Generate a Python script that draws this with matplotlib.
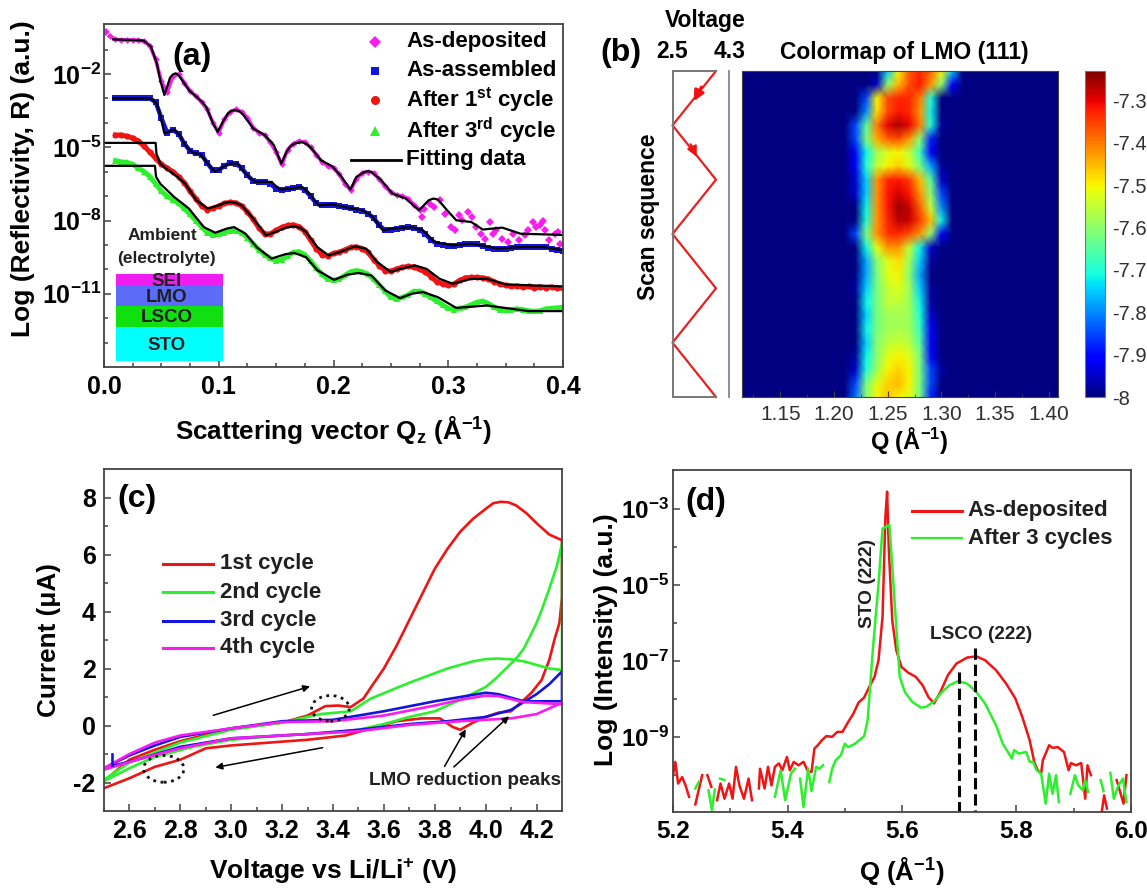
import numpy as np
import matplotlib
matplotlib.use('Agg')
import matplotlib.pyplot as plt
from matplotlib.lines import Line2D
from matplotlib.patches import Rectangle, Ellipse

plt.rcParams['font.family'] = ['Liberation Sans', 'DejaVu Sans']
plt.rcParams['font.weight'] = 'bold'
plt.rcParams['mathtext.fontset'] = 'custom'
plt.rcParams['mathtext.rm'] = 'Liberation Sans:bold'
plt.rcParams['mathtext.bf'] = 'Liberation Sans:bold'
plt.rcParams['mathtext.it'] = 'Liberation Sans:bold'
plt.rcParams['mathtext.default'] = 'bf'

W, H = 1147, 888
EDGE = '#444444'
RED, GREEN, BLUE, PINK = '#f01414', '#2cf02c', '#1414e0', '#f81cf0'

# panel (a): reflectivity, log10 R
r_ad = [-0.45, -0.58, -0.6, -0.6, -0.6, -0.62, -0.65, -0.85, -1.4, -2.3, -2.75, -2.1, -2.0, -2.35, -2.7, -2.9, -3.15,
        -3.45, -4.0, -4.4, -3.85, -3.55, -3.45, -3.55, -3.8, -4.2, -4.4, -4.5, -4.8, -5.2, -5.7, -5.1, -4.85, -4.75,
        -4.8, -5.0, -5.3, -5.6, -5.75, -5.85, -6.1, -6.5, -6.75, -6.3, -6.05, -6.0, -6.05, -6.3, -6.6, -6.85, -6.95,
        -7.0, -7.1, -7.35, -7.55]
q_ad_noisy = [.002, .277, .279, .284, .2877, .2926, .2975, .3024, .3057, .309, .3123, .3172, .3205, .3245, .3287, .332,
              .3363, .3386, .3419, .3468, .3517, .3567, .3616, .3665, .3698, .3738, .3764, .3803, .383, .3846, .3879,
              .3928, .396, .3978]
r_ad_noisy = [-0.26, -7.85, -7.51, -7.31, -7.44, -7.17, -7.72, -8.27, -8.4, -7.79, -7.99, -7.65, -7.85, -8.27, -8.54,
              -8.74, -8.06, -8.54, -8.4, -8.74, -8.88, -8.54, -8.81, -8.61, -8.4, -8.06, -8.27, -8.2, -8.0, -8.4,
              -8.81, -8.54, -8.48, -8.95]
r_aa = [-3.0, -3.0, -3.0, -3.0, -3.0, -3.0, -3.0, -3.15, -3.8, -4.4, -4.28, -4.45, -4.85, -5.15, -5.25, -5.3, -5.65,
        -5.95, -5.95, -5.75, -5.65, -5.67, -5.85, -6.15, -6.38, -6.42, -6.42, -6.5, -6.7, -6.75, -6.7, -6.65, -6.62,
        -6.75, -7.0, -7.3, -7.38, -7.35, -7.36, -7.42, -7.46, -7.5, -7.55, -7.6, -7.72, -7.9, -8.2, -8.4, -8.4, -8.33,
        -8.3, -8.28, -8.3, -8.38, -8.55, -8.8, -8.95, -9.0, -9.03, -9.03, -9.0, -8.98, -8.95, -8.97, -9.05, -9.12,
        -9.15, -9.18, -9.15, -9.12, -9.1, -9.1, -9.08, -9.08, -9.1, -9.1, -9.15, -9.2, -9.25]
r_c1 = [-4.5, -4.5, -4.55, -4.62, -4.75, -4.95, -5.2, -5.45, -5.7, -5.85, -6.0, -6.2, -6.45, -6.8, -7.1, -7.4, -7.55,
        -7.5, -7.4, -7.3, -7.25, -7.28, -7.4, -7.65, -7.95, -8.3, -8.55, -8.55, -8.4, -8.28, -8.2, -8.18, -8.25, -8.45,
        -8.8, -9.15, -9.4, -9.45, -9.35, -9.3, -9.2, -9.1, -9.08, -9.15, -9.3, -9.6, -9.85, -10.05, -10.08, -9.98,
        -9.92, -9.88, -9.9, -10.0, -10.1, -10.3, -10.5, -10.6, -10.65, -10.6, -10.45, -10.35, -10.33, -10.33, -10.35,
        -10.4, -10.5, -10.6, -10.65, -10.7, -10.68, -10.72, -10.7, -10.75, -10.72, -10.75, -10.72, -10.78, -10.75]
r_c3 = [-5.55, -5.6, -5.62, -5.7, -5.85, -6.0, -6.2, -6.5, -6.8, -7.0, -7.15, -7.3, -7.5, -7.75, -8.0, -8.25, -8.5,
        -8.6, -8.55, -8.5, -8.42, -8.42, -8.5, -8.7, -8.95, -9.2, -9.4, -9.55, -9.65, -9.6, -9.45, -9.3, -9.28, -9.4,
        -9.65, -9.95, -10.2, -10.4, -10.45, -10.4, -10.25, -10.1, -10.05, -10.1, -10.2, -10.4, -10.65, -10.9, -11.15,
        -11.22, -11.15, -11.05, -10.9, -10.9, -11.0, -11.15, -11.3, -11.45, -11.6, -11.65, -11.6, -11.55, -11.45,
        -11.35, -11.3, -11.4, -11.55, -11.65, -11.68, -11.65, -11.62, -11.65, -11.7, -11.72, -11.7, -11.62, -11.6,
        -11.58, -11.55]

fit_ad_q = [.008, .0345, .041, .046, .049, .0526, .056, .0575, .06, .0625, .065, .067, .074, .0805, .085, .089, .095,
            .099, .1035, .108, .1115, .115, .1185, .1216, .13, .14, .148, .1545, .159, .1625, .166, .1726, .177, .181,
            .189, .199, .207, .2147, .22, .227, .23, .233, .2416, .2515, .263, .2745, .283, .287, .291, .299, .307,
            .32, .33, .347, .363, .4]
fit_ad_r = [-.58, -.63, -.88, -1.56, -2.25, -2.86, -2.38, -2.15, -2.02, -1.97, -2.05, -2.18, -2.66, -2.93, -3.12, -3.34,
            -4.02, -4.37, -3.96, -3.61, -3.5, -3.48, -3.54, -3.68, -4.23, -4.5, -4.91, -5.67, -5.19, -4.95, -4.85,
            -4.78, -4.88, -5.05, -5.53, -5.78, -6.21, -6.73, -6.21, -6.01, -5.98, -6.01, -6.35, -6.9, -7.1, -7.58,
            -7.17, -7.1, -7.14, -7.58, -7.99, -8.06, -8.37, -8.29, -8.54, -8.59]
fit_aa_q = [.008, .041, .046, .049, .0526, .056, .061, .066, .0707, .0773, .0838, .0904, .097, .1035, .11, .1167,
            .1233, .1315, .14, .146, .153, .163, .1726, .179, .187, .199, .212, .225, .233, .243, .2515, .268, .278,
            .288, .304, .32, .3435, .363, .383, .4]
fit_aa_r = [-3.0, -3.0, -3.2, -3.68, -4.43, -4.37, -4.27, -4.5, -4.91, -5.23, -5.28, -5.67, -6.01, -5.8, -5.67, -5.67,
            -6.08, -6.42, -6.42, -6.42, -6.73, -6.69, -6.62, -6.9, -7.38, -7.34, -7.47, -7.58, -7.79, -8.4, -8.33,
            -8.27, -8.4, -8.88, -9.02, -8.95, -9.15, -9.09, -9.09, -9.22]
fit_c1_q = [.001, .045, .0457, .049, .054, .064, .0707, .0805, .0904, .1, .105, .11, .115, .12, .13, .1413, .153, .16,
            .166, .171, .176, .186, .1956, .2055, .2186, .2285, .238, .25, .258, .271, .281, .2926, .304, .32, .3337,
            .35, .4]
fit_c1_r = [-4.82, -4.82, -5.26, -5.67, -5.87, -6.21, -6.49, -7.17, -7.51, -7.38, -7.28, -7.24, -7.28, -7.38, -7.92,
            -8.61, -8.4, -8.28, -8.24, -8.3, -8.47, -9.09, -9.43, -9.29, -9.06, -9.15, -9.7, -10.11, -9.98, -9.84,
            -9.98, -10.39, -10.59, -10.39, -10.39, -10.62, -10.7]
fit_c3_q = [.001, .0444, .0454, .049, .061, .074, .087, .097, .107, .1134, .1233, .133, .146, .158, .166, .176, .186,
            .2005, .212, .222, .233, .245, .258, .268, .278, .291, .307, .3337, .37, .4]
fit_c3_r = [-5.76, -5.76, -6.21, -6.49, -7.03, -7.51, -8.27, -8.5, -8.33, -8.27, -8.54, -9.09, -9.56, -9.38, -9.33,
            -9.5, -10.04, -10.43, -10.22, -10.15, -10.25, -10.86, -11.18, -11.0, -10.93, -11.14, -11.58, -11.48,
            -11.71, -11.71]

# panel (b): log intensity, one row per scan step, columns at q_cols
q_cols = [1.21, 1.22, 1.23, 1.24, 1.25, 1.26, 1.27, 1.28, 1.29, 1.30, 1.31, 1.32]
lmo_map = [
    [-8, -8, -8, -8, -7.75, -7.5, -7.38, -7.33, -7.38, -7.5, -7.75, -8],
    [-8, -8, -8, -7.95, -7.6, -7.45, -7.36, -7.32, -7.42, -7.6, -7.9, -8],
    [-8, -8, -7.85, -7.5, -7.36, -7.33, -7.33, -7.4, -7.7, -8, -8, -8],
    [-8, -8, -7.8, -7.48, -7.36, -7.32, -7.33, -7.42, -7.72, -8, -8, -8],
    [-8, -7.85, -7.65, -7.4, -7.3, -7.26, -7.3, -7.4, -7.7, -7.98, -8, -8],
    [-8, -7.85, -7.62, -7.44, -7.38, -7.36, -7.42, -7.6, -7.88, -8, -8, -8],
    [-8, -7.92, -7.72, -7.58, -7.52, -7.5, -7.55, -7.68, -7.92, -8, -8, -8],
    [-8, -7.92, -7.7, -7.55, -7.5, -7.47, -7.52, -7.62, -7.78, -7.98, -8, -8],
    [-8, -7.95, -7.75, -7.42, -7.33, -7.32, -7.35, -7.45, -7.65, -7.95, -8, -8],
    [-8, -7.95, -7.75, -7.42, -7.32, -7.29, -7.32, -7.42, -7.6, -7.85, -8, -8],
    [-8, -8, -7.72, -7.42, -7.32, -7.25, -7.28, -7.38, -7.55, -7.8, -8, -8],
    [-8, -8, -7.7, -7.42, -7.33, -7.27, -7.28, -7.35, -7.45, -7.72, -8, -8],
    [-8, -7.85, -7.62, -7.42, -7.34, -7.33, -7.36, -7.42, -7.6, -7.9, -8, -8],
    [-8, -8, -7.72, -7.52, -7.42, -7.42, -7.55, -7.72, -7.95, -8, -8, -8],
    [-8, -8, -7.78, -7.6, -7.52, -7.48, -7.58, -7.75, -7.98, -8, -8, -8],
    [-8, -8, -7.78, -7.62, -7.52, -7.5, -7.6, -7.78, -8, -8, -8, -8],
    [-8, -7.98, -7.75, -7.62, -7.55, -7.52, -7.58, -7.75, -7.98, -8, -8, -8],
    [-8, -8, -7.72, -7.62, -7.55, -7.55, -7.58, -7.72, -7.98, -8, -8, -8],
    [-8, -8, -7.75, -7.62, -7.58, -7.58, -7.58, -7.7, -7.95, -8, -8, -8],
    [-8, -8, -7.72, -7.62, -7.58, -7.57, -7.58, -7.68, -7.92, -8, -8, -8],
    [-8, -8, -7.75, -7.6, -7.56, -7.54, -7.56, -7.65, -7.92, -8, -8, -8],
    [-8, -7.98, -7.72, -7.6, -7.52, -7.5, -7.52, -7.62, -7.9, -8, -8, -8],
    [-8, -7.95, -7.7, -7.58, -7.5, -7.47, -7.5, -7.62, -7.85, -7.98, -8, -8],
    [-8, -7.85, -7.62, -7.52, -7.47, -7.45, -7.5, -7.62, -7.85, -8, -8, -8],
    [-8, -7.82, -7.6, -7.5, -7.46, -7.5, -7.52, -7.62, -7.88, -8, -8, -8],
]
scan_v = [4.3, 2.5, 4.3, 2.5, 4.3, 2.5, 4.3]
scan_step = [0, 4, 8, 12, 16, 20, 24]

# panel (c): cyclic voltammetry
cv1_v = [2.5, 2.6, 2.7, 2.8, 3.0, 3.2, 3.3, 3.37, 3.42, 3.47, 3.52, 3.55, 3.6, 3.65, 3.7, 3.75, 3.8, 3.85, 3.9, 3.95,
         4.0, 4.03, 4.06, 4.09, 4.12, 4.16, 4.2, 4.25, 4.3, 4.3, 4.29, 4.27, 4.25, 4.22, 4.18, 4.15, 4.1, 4.05, 4.0,
         3.95, 3.9, 3.87, 3.82, 3.75, 3.65, 3.55, 3.45, 3.3, 3.0, 2.9, 2.8, 2.7, 2.6, 2.5]
cv1_i = [-1.95, -1.2, -.85, -.55, -.1, .1, .35, .68, .7, .65, .95, 1.35, 2.0, 2.8, 3.7, 4.6, 5.5, 6.2, 6.8, 7.25, 7.6,
         7.8, 7.85, 7.83, 7.72, 7.45, 7.1, 6.7, 6.5, 4.5, 3.6, 3.0, 2.3, 1.6, 1.15, .9, .5, .45, .3, .1, -.15, -.05,
         .25, .25, .15, -.1, -.35, -.5, -.7, -.8, -1.2, -1.45, -1.85, -2.2]
cv2_v = [2.5, 2.6, 2.7, 2.8, 3.0, 3.2, 3.35, 3.47, 3.55, 3.7, 3.85, 3.95, 4.0, 4.05, 4.1, 4.15, 4.25, 4.3, 4.3, 4.28,
         4.25, 4.22, 4.2, 4.17, 4.15, 4.12, 4.08, 4.04, 4.0, 3.9, 3.8, 3.7, 3.6, 3.5, 3.4, 3.2, 3.0, 2.85, 2.7, 2.6, 2.5]
cv2_i = [-1.9, -1.3, -.95, -.6, -.15, .1, .4, .5, .95, 1.5, 2.0, 2.25, 2.33, 2.35, 2.32, 2.25, 2.0, 1.95, 6.4, 5.6, 4.8,
         4.05, 3.6, 3.05, 2.7, 2.35, 2.0, 1.65, 1.35, .9, .5, .3, .05, -.15, -.25, -.35, -.5, -.75, -1.1, -1.5, -1.95]
cv3_v = [2.5, 2.6, 2.7, 2.8, 3.0, 3.2, 3.4, 3.6, 3.8, 3.9, 4.0, 4.05, 4.15, 4.3, 4.3, 4.25, 4.2, 4.1, 4.0, 3.85, 3.7,
         3.5, 3.3, 3.0, 2.8, 2.65, 2.5]
cv3_i = [-1.5, -1.05, -.7, -.4, -.1, .15, .2, .5, .85, 1.0, 1.15, 1.1, .85, .85, 1.9, 1.45, 1.1, .55, .3, .15, .05,
         -.15, -.3, -.45, -.75, -1.15, -1.5]
cv4_v = [2.5, 2.6, 2.7, 2.8, 3.0, 3.2, 3.4, 3.6, 3.8, 3.9, 4.0, 4.05, 4.15, 4.3, 4.3, 4.2, 4.1, 3.9, 3.7, 3.5, 3.3, 3.0,
         2.8, 2.65, 2.5]
cv4_i = [-1.5, -1.0, -.6, -.35, -.1, .12, .15, .35, .7, .9, 1.05, 1.03, .82, .75, .8, .4, .25, .15, .02, -.2, -.3,
         -.45, -.8, -1.15, -1.55]
cv_labels = ['1st cycle', '2nd cycle', '3rd cycle', '4th cycle']

# panel (d): XRD, nan marks the gaps in the log plot
nan = float('nan')
xrd1_q = [5.2, 5.204, 5.209, 5.216, 5.222, 5.228, nan, 5.239, 5.251, nan, 5.26, 5.267, nan, 5.277, 5.283, 5.29, 5.298,
          5.304, 5.31, 5.316, 5.324, 5.332, 5.338, nan, 5.35, 5.352, 5.36, 5.366, 5.372, 5.378, 5.385, 5.391, 5.399,
          5.404, 5.411, 5.419, 5.428, 5.436, 5.442, 5.447, 5.453, 5.46, 5.468, 5.478, 5.487, 5.496, 5.506, 5.515,
          5.524, 5.534, 5.543, 5.552, 5.559, 5.566, 5.571, 5.574, 5.577, 5.583, 5.59, 5.599, 5.611, 5.624, 5.636,
          5.646, 5.656, 5.667, 5.68, 5.695, 5.714, 5.73, 5.745, 5.764, 5.782, 5.798, 5.81, 5.823, 5.831, 5.837, 5.843,
          5.846, 5.857, 5.863, 5.872, 5.883, 5.891, 5.895, 5.904, 5.913, 5.92, 5.924, 5.93, nan, 5.949, 5.953, 5.958,
          nan, 5.975, 5.987, 5.992]
xrd1_i = [-10.01, -9.66, -10.23, -10.06, -10.28, -10.58, nan, -10.78, -10.01, nan, -10.01, -10.32, nan, -10.67, -10.23,
          -10.63, -10.23, -10.63, -9.79, -10.28, -10.63, -10.1, -10.67, nan, -10.36, -9.84, -10.36, -9.79, -10.28,
          -9.79, -9.7, -9.88, -9.53, -9.88, -9.66, -9.75, -9.66, -9.92, -9.92, -9.31, -9.22, -9.09, -8.98, -9.0, -8.87,
          -8.87, -8.61, -8.39, -8.1, -7.96, -7.68, -7.42, -6.98, -5.84, -3.2, -2.54, -4.08, -5.93, -6.72, -7.16, -7.31,
          -7.42, -7.64, -7.95, -8.12, -7.82, -7.38, -7.07, -6.91, -6.88, -6.98, -7.24, -7.6, -7.99, -8.47, -9.09, -9.66,
          -9.88, -9.97, -9.62, -9.22, -9.29, -9.27, -9.4, -9.88, -9.69, -9.75, -9.69, -10.63, -9.75, -10.01, nan,
          -10.98, -10.54, -10.89, nan, -10.14, -10.76, -10.01]
xrd3_q = [5.239, 5.245, nan, 5.262, 5.268, 5.273, nan, 5.282, 5.29, nan, 5.378, 5.388, 5.396, 5.406, 5.413, nan, 5.422,
          5.428, 5.436, 5.442, 5.45, 5.456, 5.462, nan, 5.473, 5.478, 5.484, 5.493, 5.5, 5.506, 5.518, 5.534, 5.54,
          5.549, 5.559, 5.566, 5.578, 5.583, 5.59, 5.596, 5.605, 5.618, 5.633, 5.642, 5.655, 5.67, 5.683, 5.698, 5.714,
          5.73, 5.745, 5.764, 5.776, 5.785, 5.792, 5.796, 5.804, 5.817, 5.823, 5.829, 5.835, 5.843, 5.851, 5.857, 5.863,
          5.869, 5.874, nan, 5.894, 5.902, 5.908, 5.916, 5.92, 5.925, nan, 5.947, 5.952, nan, 5.964, 5.97, 5.978, 5.986,
          5.992]
xrd3_i = [-10.36, -10.19, nan, -10.41, -10.93, -10.39, nan, -10.1, -10.14, nan, -10.58, -9.88, -10.67, -9.97, -9.84,
          nan, -10.1, -10.85, -9.84, -10.43, -9.79, -9.84, -9.75, nan, -10.19, -9.84, -9.62, -9.49, -9.18, -9.27, -9.18,
          -8.98, -8.56, -6.72, -4.96, -3.51, -3.42, -4.52, -6.1, -7.42, -7.82, -8.08, -8.23, -8.21, -8.08, -7.82, -7.64,
          -7.53, -7.6, -7.82, -8.12, -8.69, -9.18, -9.4, -9.57, -9.35, -9.44, -9.4, -9.66, -9.66, -9.88, -9.97, -10.76,
          -9.97, -10.5, -10.01, -10.72, nan, -10.5, -10.01, -10.28, -10.41, -10.14, -10.45, nan, -10.14, -10.43, nan,
          -9.95, -10.63, -10.28, -10.1, -10.72]


def box(x0, y0, x1, y1):
    # axes from pixel corners of the original picture
    return fig.add_axes([x0 / W, 1 - y1 / H, (x1 - x0) / W, (y1 - y0) / H])


def label(x, y, s, size=16, **kw):
    kw.setdefault('ha', 'center')
    kw.setdefault('va', 'center')
    fig.text(x / W, 1 - y / H, s, fontsize=size, **kw)


def fig_line(xs, ys, **kw):
    fig.add_artist(Line2D([x / W for x in xs], [1 - y / H for y in ys], transform=fig.transFigure, **kw))


def style(ax, size=18, pad=6):
    for s in ax.spines.values():
        s.set_color(EDGE)
        s.set_linewidth(1.3)
    ax.tick_params(which='both', direction='in', color=EDGE, width=1.1)
    ax.tick_params(which='major', length=5, labelsize=size, pad=pad)
    ax.tick_params(which='minor', length=3)


fig = plt.figure(figsize=(W / 100, H / 100), dpi=100)

# ---- (a)
ax = box(104, 24, 563, 367)
style(ax)
ax.tick_params(axis='y', which='major', pad=2)
q_grid = np.linspace(0.01, 0.4, len(r_aa))
ax.plot(np.linspace(0.005, 0.275, len(r_ad)), 10.0 ** np.array(r_ad), '-D', color=PINK, lw=2.6, ms=3.4, mew=0)
ax.plot(q_ad_noisy, 10.0 ** np.array(r_ad_noisy), 'D', color=PINK, ms=4.4, mew=0)
ax.plot(q_grid, 10.0 ** np.array(r_aa), '-s', color=BLUE, lw=3.2, ms=3.8, mew=0)
ax.plot(q_grid, 10.0 ** np.array(r_c1), '-o', color=RED, lw=3.6, ms=4.4, mew=0)
ax.plot(q_grid, 10.0 ** np.array(r_c3), '-^', color=GREEN, lw=3.6, ms=4.6, mew=0)
for q, r in [(fit_ad_q, fit_ad_r), (fit_aa_q, fit_aa_r), (fit_c1_q, fit_c1_r), (fit_c3_q, fit_c3_r)]:
    ax.plot(q, 10.0 ** np.array(r), color='black', lw=1.6)
ax.set_yscale('log')
ax.set_xlim(0, 0.4)
ax.set_ylim(10 ** -14.0, 10 ** 0.05)
ax.set_xticks([0, .1, .2, .3, .4])
ax.set_xticklabels(['0.0', '0.1', '0.2', '0.3', '0.4'])
ax.set_xticks(np.arange(0, .4, .025), minor=True)
ax.set_yticks([1e-2, 1e-5, 1e-8, 1e-11])
ax.set_yticklabels(['$10^{-2}$', '$10^{-5}$', '$10^{-8}$', '$10^{-11}$'])
ax.set_yticks([10.0 ** -k for k in range(1, 14)], minor=True)
ax.set_yticklabels([], minor=True)
label(23, 179, 'Log (Reflectivity, R) (a.u.)', 19, rotation=90)
label(334, 430, 'Scattering vector Q$_{z}$ (Å$^{-1}$)', 18.8)
label(192, 57, '(a)', 23)

# layer stack sketch
for y0, y1, c, name in [(274, 286, '#f01cf0', 'SEI'), (286, 306, '#5a6cf8', 'LMO'),
                        (306, 327, '#10e010', 'LSCO'), (327, 361, '#00ffff', 'STO')]:
    fig.add_artist(Rectangle((115.5 / W, 1 - y1 / H), 107 / W, (y1 - y0) / H, color=c, lw=0,
                             transform=fig.transFigure))
    label(167, (y0 + y1) / 2 + 1, name, 13.5, color='#202020')
label(162, 235, 'Ambient', 12.5, color='#202020')
label(166, 258, '(electrolyte)', 12.5, color='#202020')

# legend of (a)
for y, m, c, ms, s in [(42, 'D', PINK, 6, 'As-deposited'), (71, 's', BLUE, 5.5, 'As-assembled'),
                       (100, 'o', RED, 6.5, 'After 1$^{st}$ cycle'), (131, '^', GREEN, 7, 'After 3$^{rd}$ cycle')]:
    fig_line([375], [y], marker=m, color=c, ms=ms, mew=0, ls='none')
    label(406, y, s, 16, ha='left')
fig_line([351, 401], [160, 160], color='black', lw=2)
label(406, 160, 'Fitting data', 16, ha='left')

# ---- (b)
ax = box(672.5, 71, 716, 397)
ax.plot(scan_v, scan_step, color='#e82020', lw=1.6, clip_on=False)
ax.annotate('', xy=(3.33, 2.4), xytext=(3.75, 1.0),
            arrowprops=dict(arrowstyle='-|>', color='#f01010', lw=2.2, mutation_scale=15))
ax.annotate('', xy=(3.55, 6.5), xytext=(3.2, 5.2),
            arrowprops=dict(arrowstyle='-|>', color='#f01010', lw=1.5, mutation_scale=15))
ax.set_xlim(2.5, 4.3)
ax.set_ylim(24, 0)
ax.set_xticks([])
ax.set_yticks([])
ax.spines['right'].set_visible(False)
for s in ax.spines.values():
    s.set_color('#777777')
    s.set_linewidth(1.4)
fig_line([729, 729], [71, 397], color='#7878a0', lw=1.2)

ax = box(741.5, 71, 1057.5, 397)
ax.set_facecolor(plt.get_cmap('jet')(0.0))
q_full = [1.20] + q_cols + [1.33]
grid = np.array([[-8] + row + [-8] for row in lmo_map], dtype=float)
qq, ss = np.meshgrid(q_full, np.arange(len(lmo_map)))
mesh = ax.pcolormesh(qq, ss, grid, cmap='jet', vmin=-8, vmax=-7.23, shading='gouraud')
ax.set_xlim(1.114, 1.408)
ax.set_ylim(24, 0)
ax.set_yticks([])
ax.set_xticks([1.15, 1.20, 1.25, 1.30, 1.35, 1.40])
ax.set_xticklabels(['1.15', '1.20', '1.25', '1.30', '1.35', '1.40'], fontweight='normal', color='#303030')
ax.set_xticks(np.arange(1.125, 1.41, .05), minor=True)
ax.tick_params(axis='x', which='both', direction='in', color=EDGE, labelsize=15, pad=6, length=4)
ax.tick_params(axis='x', which='minor', length=2)
for s in ax.spines.values():
    s.set_color(EDGE)

cax = box(1085, 71, 1105, 397)
cbar = fig.colorbar(mesh, cax=cax)
cbar.set_ticks([-8, -7.9, -7.8, -7.7, -7.6, -7.5, -7.4, -7.3])
cbar.set_ticklabels(['-8', '-7.9', '-7.8', '-7.7', '-7.6', '-7.5', '-7.4', '-7.3'], fontweight='normal', color='#303030')
cbar.ax.tick_params(length=0, labelsize=14.5, pad=5)
cbar.outline.set_edgecolor('#777777')

label(621, 53, '(b)', 23)
label(705, 20, 'Voltage', 16.5)
label(672, 52, '2.5', 16.5)
label(729.5, 52, '4.3', 16.5)
label(904, 52, 'Colormap of LMO (111)', 16.5)
label(649, 217, 'Scan sequence', 16.5, rotation=90)
label(909, 440, 'Q (Å$^{-1}$)', 17)

# ---- (c)
ax = box(104, 469, 562, 811)
style(ax)
for v, i, c in [(cv1_v, cv1_i, RED), (cv2_v, cv2_i, GREEN), (cv3_v, cv3_i, BLUE), (cv4_v, cv4_i, PINK)]:
    ax.plot(v, i, color=c, lw=1.9)
ax.plot([2.53, 2.53], [-1.0, -1.4], color=BLUE, lw=1.9)
ax.set_xlim(2.5, 4.3)
ax.set_ylim(-3, 9)
ax.set_xticks(np.arange(2.6, 4.3, .2))
ax.set_xticklabels(['%.1f' % t for t in np.arange(2.6, 4.3, .2)])
ax.set_xticks(np.arange(2.5, 4.3, .2), minor=True)
ax.set_yticks([-2, 0, 2, 4, 6, 8])
ax.set_yticklabels(['-2', '0', '2', '4', '6', '8'])
ax.set_yticks([-1, 1, 3, 5, 7], minor=True)
for xy, w, h in [((3.39, 0.6), .148, .9), ((2.735, -1.52), .158, .94)]:
    ax.add_patch(Ellipse(xy, w, h, fill=False, ls=':', lw=2, ec='#101010', zorder=5))
for start, end in [((2.919, .33), (3.32, 1.4)), ((3.37, -.76), (2.927, -1.49)),
                   ((3.833, -1.52), (3.927, -.05)), ((3.867, -1.52), (4.1, .39))]:
    ax.annotate('', xy=end, xytext=start, arrowprops=dict(arrowstyle='-|>', color='black', lw=1.1))
ax.text(3.918, -1.93, 'LMO reduction peaks', fontsize=13.6, ha='center', va='center', color='#202020')
for y, c, s in zip([5.68, 4.68, 3.68, 2.73], [RED, GREEN, BLUE, PINK], cv_labels):
    ax.plot([2.733, 2.93], [y, y], color=c, lw=2.2)
    ax.text(2.955, y, s, fontsize=16, va='center', color='#202020')
label(49, 640, 'Current (μA)', 18.8, rotation=90)
label(333, 871, 'Voltage vs Li/Li$^{+}$ (V)', 19)
label(137, 499, '(c)', 23)

# ---- (d)
ax = box(673, 470, 1131, 812)
style(ax, size=17.5)
ax.tick_params(axis='y', which='major', pad=3)
ax.plot(xrd1_q, 10.0 ** np.array(xrd1_i), color=RED, lw=1.8)
ax.plot(xrd3_q, 10.0 ** np.array(xrd3_i), color=GREEN, lw=1.8)
ax.set_yscale('log')
ax.set_xlim(5.2, 6.0)
ax.set_ylim(10 ** -10.98, 10 ** -1.97)
ax.set_xticks([5.2, 5.4, 5.6, 5.8, 6.0])
ax.set_xticklabels(['5.2', '5.4', '5.6', '5.8', '6.0'])
ax.set_xticks(np.arange(5.3, 6.0, .2), minor=True)
ax.set_yticks([1e-3, 1e-5, 1e-7, 1e-9])
ax.set_yticklabels(['$10^{-3}$', '$10^{-5}$', '$10^{-7}$', '$10^{-9}$'])
ax.set_yticks([1e-4, 1e-6, 1e-8, 1e-10], minor=True)
ax.set_yticklabels([], minor=True)
ax.plot([5.7, 5.7], [10 ** -7.29, 10 ** -10.98], color='black', ls='--', lw=2.2)
ax.plot([5.728, 5.728], [10 ** -6.65, 10 ** -10.98], color='black', ls='--', lw=2.2)
ax.text(5.54, 10 ** -4.96, 'STO (222)', rotation=90, fontsize=13.8, ha='center', va='center', color='#202020')
ax.text(5.7376, 10 ** -6.3, 'LSCO (222)', fontsize=13.7, ha='center', va='center', color='#202020')
ax.plot([5.618, 5.705], [10 ** -3.04, 10 ** -3.04], color=RED, lw=2.2)
ax.plot([5.618, 5.705], [10 ** -3.77, 10 ** -3.77], color=GREEN, lw=1.6)
ax.text(5.715, 10 ** -3.04, 'As-deposited', fontsize=16, va='center', color='#202020')
ax.text(5.715, 10 ** -3.77, 'After 3 cycles', fontsize=16, va='center', color='#202020')
label(606, 640, 'Log (Intensity) (a.u.)', 19, rotation=90)
label(902, 871, 'Q (Å$^{-1}$)', 18.6)
label(706, 502, '(d)', 23)

plt.savefig('out.png', dpi=100)
